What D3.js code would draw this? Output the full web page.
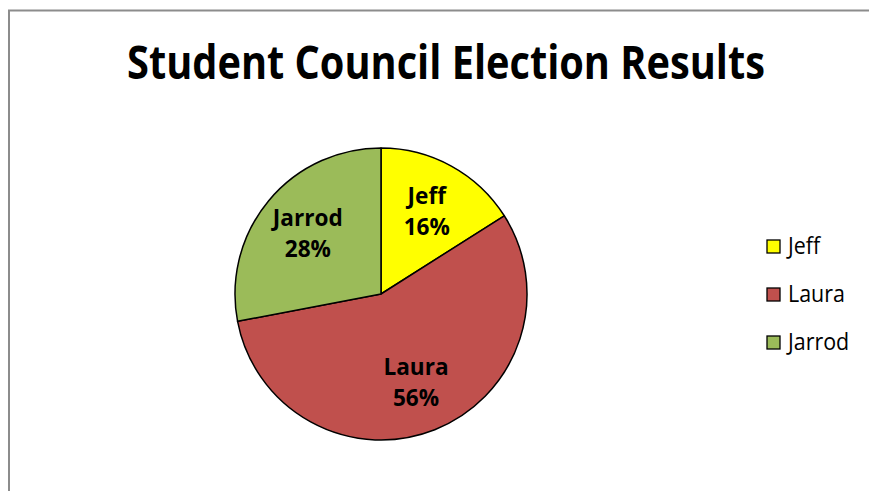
<!DOCTYPE html>
<meta charset="utf-8">
<head>
    <style>
        body { margin: 0; background: #fff; }
        text { font-family: "Open Sans", "Liberation Sans", sans-serif; }
    </style>
    <script src="https://d3js.org/d3.v7.min.js"></script>
</head>
<body>
<svg id="chart"></svg>
<script>
    var candidates = ["Jeff", "Laura", "Jarrod"];
    var percents = [16, 56, 28];
    var sliceColors = ["#FFFF00", "#C0504D", "#9BBB59"];
    var chartTitle = "Student Council Election Results";

    var width = 869, height = 491;

    var svg = d3.select("#chart")
        .attr("width", width)
        .attr("height", height);

    // width of a string at a given font, used to squeeze Open Sans towards Calibri's narrower shape
    var measure = svg.append("text").style("visibility", "hidden");
    function textWidth(str, size, weight) {
        measure.style("font-size", size + "px").style("font-weight", weight).text(str);
        return measure.node().getComputedTextLength();
    }

    // chart area frame (runs off the right and bottom)
    svg.append("rect")
        .attr("x", 9).attr("y", 10.5)
        .attr("width", 900).attr("height", 600)
        .style("fill", "#fff")
        .style("stroke", "#8c8c8c")
        .style("stroke-width", 2);

    // title
    var titleScale = 638 / textWidth(chartTitle, 46, "bold");
    svg.append("text")
        .attr("transform", "translate(446,79) scale(" + titleScale + ",1)")
        .attr("text-anchor", "middle")
        .style("font-weight", "bold")
        .style("font-size", "46px")
        .text(chartTitle);

    var data = candidates.map(function (c, i) { return {name: c, value: percents[i]}; });

    var color = d3.scaleOrdinal().domain(candidates).range(sliceColors);

    var cx = 381, cy = 294, r = 146;

    var pie = d3.pie().sort(null).value(function (d) { return d.value; });
    var arc = d3.arc().innerRadius(0).outerRadius(r);
    var labelArc = d3.arc().innerRadius(95).outerRadius(95);

    var g = svg.append("g").attr("transform", "translate(" + cx + "," + cy + ")");

    var slices = g.selectAll("g.slice")
        .data(pie(data))
        .enter()
        .append("g")
        .attr("class", "slice");

    slices.append("path")
        .attr("d", arc)
        .style("fill", function (d) { return color(d.data.name); })
        .style("stroke", "#000")
        .style("stroke-width", 1.5)
        .style("stroke-linejoin", "round");

    var labelScale = 70 / textWidth("Jarrod", 24, "bold");
    var labels = slices.append("text")
        .attr("transform", function (d) {
            var c = labelArc.centroid(d);
            return "translate(" + c[0] + "," + c[1] + ") scale(" + labelScale + ",1)";
        })
        .attr("text-anchor", "middle")
        .style("font-weight", "bold")
        .style("font-size", "24px")
        .style("fill", "#000");
    labels.append("tspan").attr("x", 0).attr("y", -7).text(function (d) { return d.data.name; });
    labels.append("tspan").attr("x", 0).attr("y", 24).text(function (d) { return d.data.value + "%"; });

    // legend
    var legendScale = 57 / textWidth("Laura", 24, "normal");
    var legend = svg.append("g").attr("transform", "translate(767,240)");
    var item = legend.selectAll("g")
        .data(candidates)
        .enter()
        .append("g")
        .attr("transform", function (d, i) { return "translate(0," + (i * 48) + ")"; });
    item.append("rect")
        .attr("width", 13).attr("height", 13)
        .style("fill", function (d) { return color(d); })
        .style("stroke", "#000")
        .style("stroke-width", 1.3);
    item.append("text")
        .attr("transform", "translate(21,14) scale(" + legendScale + ",1)")
        .style("font-size", "24px")
        .style("fill", "#000")
        .text(function (d) { return d; });

    measure.remove();
</script>
</body>
</html>
